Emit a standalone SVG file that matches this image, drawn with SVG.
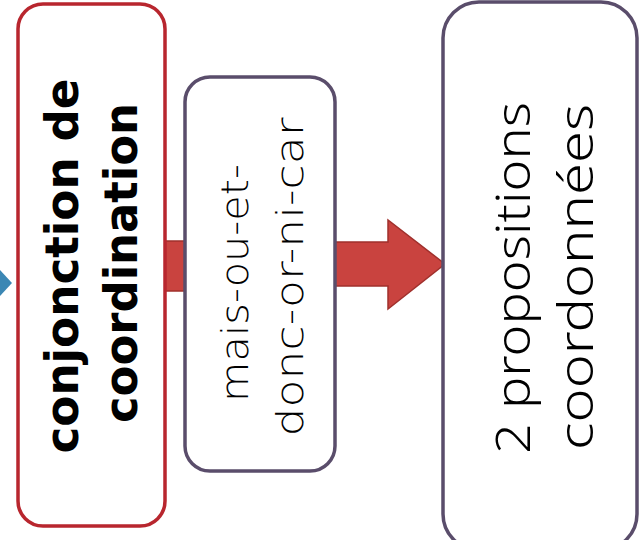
<svg xmlns="http://www.w3.org/2000/svg" width="644" height="540" viewBox="0 0 644 540">
<defs>
<style>
.box{fill:#ffffff;stroke-width:3.5}
.red{stroke:#b8262e}
.pur{stroke:#5a4d6b}
.conn{fill:#c9433f;stroke:#a0302c;stroke-width:1.5}
.t{font-family:"DejaVu Sans","Liberation Sans",sans-serif;fill:#000;text-anchor:middle}
.b{font-weight:bold;font-size:46px}
.m{font-size:38px;font-weight:200}
.r{font-family:"Noto Sans","DejaVu Sans",sans-serif;font-size:47px;font-weight:300}
</style>
</defs>
<rect width="644" height="540" fill="#ffffff"/>
<g id="connectors">
<polygon points="0,270 12,283 0,296" fill="#3b87b4"/>
<rect class="conn" x="165" y="241" width="20" height="50"/>
<polygon class="conn" points="335,242 388,242 388,220 445,264 388,309 388,286 335,286"/>
</g>
<g id="node-conjonction">
<rect class="box red" x="18" y="4" width="147" height="522" rx="25"/>
<text class="t b" transform="translate(78,266) rotate(-90)" textLength="375" lengthAdjust="spacingAndGlyphs">conjonction de</text>
<text class="t b" transform="translate(137,263) rotate(-90)" textLength="320" lengthAdjust="spacingAndGlyphs">coordination</text>
</g>
<g id="node-mots">
<rect class="box pur" x="185" y="77" width="150" height="394" rx="25"/>
<text class="t m" transform="translate(248,283) rotate(-90)" textLength="238" lengthAdjust="spacingAndGlyphs">mais-ou-et-</text>
<text class="t m" transform="translate(303,277) rotate(-90)" textLength="319" lengthAdjust="spacingAndGlyphs">donc-or-ni-car</text>
</g>
<g id="node-propositions">
<rect class="box pur" x="443" y="2" width="194" height="548" rx="36"/>
<text class="t r" transform="translate(530,278) rotate(-90)" textLength="352" lengthAdjust="spacingAndGlyphs">2 propositions</text>
<text class="t r" transform="translate(593,277) rotate(-90)" textLength="346" lengthAdjust="spacingAndGlyphs">coordonnées</text>
</g>
</svg>
